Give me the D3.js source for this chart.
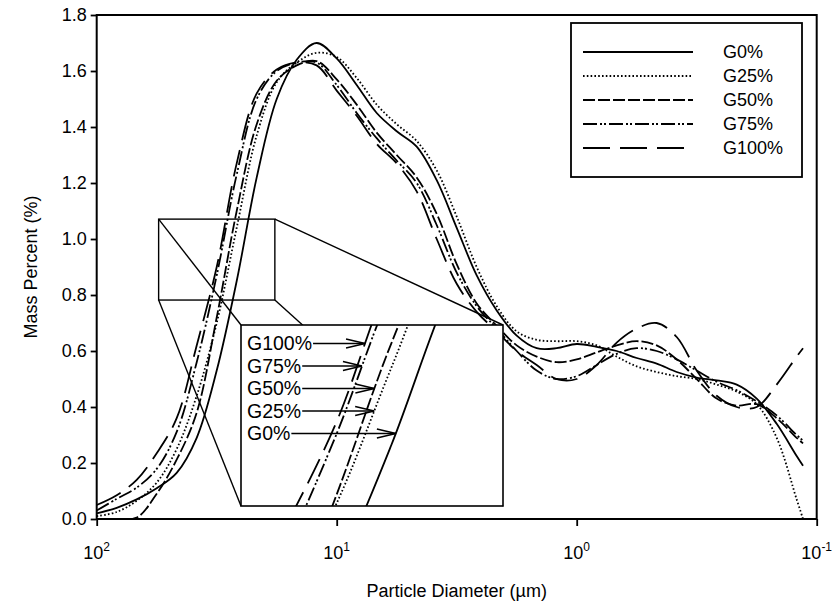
<!DOCTYPE html>
<html>
<head>
<meta charset="utf-8">
<script src="https://cdn.jsdelivr.net/npm/d3@7"></script>
<style>
  body { margin: 0; background: #fff; }
  text { font-family: "Liberation Sans", Arial, sans-serif; fill: #000; }
</style>
</head>
<body>
<svg id="chart" width="834" height="608"></svg>
<script>
// Particle diameters (µm), coarse to fine
const diameters = [100, 82.54, 68.13, 56.23, 46.42, 38.31, 31.62, 26.10, 21.54, 17.78,
  14.68, 12.12, 10.00, 8.254, 6.813, 5.623, 4.642, 3.831, 3.162, 2.610,
  2.154, 1.778, 1.468, 1.212, 1.000, 0.8254, 0.6813, 0.5623, 0.4642, 0.3831,
  0.3162, 0.2610, 0.2154, 0.1778, 0.1468, 0.1212, 0.114];

// Mass percent (%) for each mix
const g0 = [0.02, 0.04, 0.07, 0.11, 0.165, 0.29, 0.53, 0.85, 1.22, 1.50,
  1.64, 1.70, 1.645, 1.55, 1.45, 1.385, 1.33, 1.21, 1.04, 0.87,
  0.745, 0.655, 0.61, 0.61, 0.625, 0.615, 0.60, 0.575, 0.555, 0.525,
  0.505, 0.495, 0.48, 0.43, 0.34, 0.225, 0.19];
const g25 = [0.01, 0.025, 0.065, 0.13, 0.25, 0.44, 0.70, 1.04, 1.37, 1.56,
  1.63, 1.665, 1.65, 1.575, 1.48, 1.41, 1.35, 1.245, 1.08, 0.90,
  0.76, 0.67, 0.64, 0.635, 0.635, 0.62, 0.58, 0.545, 0.525, 0.51,
  0.50, 0.48, 0.455, 0.41, 0.29, 0.07, 0.0];
const g50 = [0.0, 0.0, 0.005, 0.09, 0.212, 0.38, 0.72, 1.10, 1.41, 1.565,
  1.62, 1.635, 1.57, 1.48, 1.38, 1.30, 1.22, 1.09, 0.91, 0.77,
  0.69, 0.62, 0.58, 0.56, 0.57, 0.595, 0.62, 0.635, 0.62, 0.57,
  0.50, 0.43, 0.405, 0.41, 0.36, 0.29, 0.27];
const g75 = [0.03, 0.072, 0.112, 0.179, 0.311, 0.56, 0.87, 1.23, 1.50, 1.60,
  1.63, 1.63, 1.55, 1.45, 1.36, 1.28, 1.20, 1.05, 0.88, 0.76,
  0.68, 0.60, 0.53, 0.50, 0.51, 0.55, 0.59, 0.61, 0.60, 0.57,
  0.53, 0.49, 0.46, 0.42, 0.37, 0.30, 0.28];
const g100 = [0.05, 0.085, 0.14, 0.235, 0.36, 0.62, 0.90, 1.27, 1.52, 1.605,
  1.63, 1.62, 1.53, 1.44, 1.34, 1.27, 1.17, 1.00, 0.84, 0.74,
  0.67, 0.60, 0.55, 0.50, 0.50, 0.55, 0.63, 0.68, 0.70, 0.65,
  0.53, 0.44, 0.40, 0.40, 0.48, 0.58, 0.61];

const seriesNames = ["G0%", "G25%", "G50%", "G75%", "G100%"];
const seriesValues = [g0, g25, g50, g75, g100];
const seriesDash = [null, "1.6,2.2", "12,3", "14,3,2,2,2,3", "27,10"];

const yTicks = [0, 0.2, 0.4, 0.6, 0.8, 1.0, 1.2, 1.4, 1.6, 1.8];
const xTicks = [100, 10, 1, 0.1];

// Region that is magnified in the inset (diameter range and mass-percent range)
const zoomBox = { dCoarse: 55.2, dFine: 18.1, vLow: 0.782, vHigh: 1.071 };
// Axis ranges used inside the inset
const insetDiameters = [43.7, 17.8];
const insetPercent = [0.70, 1.145];
// Inset labels, top to bottom
const insetOrder = ["G100%", "G75%", "G50%", "G25%", "G0%"];

// ---------------------------------------------------------------
const L = 96.7, R = 816.7, T = 15, B = 519;
const svg = d3.select("#chart");
const x = d3.scaleLog().domain([100, 0.1]).range([L, R]);
const y = d3.scaleLinear().domain([0, 1.8]).range([B, T]);

const series = seriesNames.map((name, i) => ({
  name,
  dash: seriesDash[i],
  points: diameters.map((d, j) => [d, seriesValues[i][j]])
}));

const defs = svg.append("defs");
defs.append("clipPath").attr("id", "plotClip")
  .append("rect").attr("x", L).attr("y", T).attr("width", R - L).attr("height", B - T);

const strokeW = 1.8;
const mainLine = d3.line()
  .x(p => x(p[0])).y(p => y(p[1]))
  .curve(d3.curveCatmullRom.alpha(0.5));

const plot = svg.append("g").attr("clip-path", "url(#plotClip)");
plot.selectAll("path.series").data(series).join("path")
  .attr("class", "series")
  .attr("d", s => mainLine(s.points))
  .attr("fill", "none")
  .attr("stroke", "#000")
  .attr("stroke-width", strokeW)
  .attr("stroke-dasharray", s => s.dash);

// Zoom box and connectors
const bx0 = x(zoomBox.dCoarse), bx1 = x(zoomBox.dFine);
const by0 = y(zoomBox.vHigh), by1 = y(zoomBox.vLow);
const inset = { x0: 241, y0: 325, x1: 503, y1: 506 };

const conn = svg.append("g").attr("stroke", "#000").attr("stroke-width", 1.4).attr("fill", "none");
conn.append("rect").attr("x", bx0).attr("y", by0).attr("width", bx1 - bx0).attr("height", by1 - by0);
[[bx0, by0, inset.x0, inset.y0], [bx0, by1, inset.x0, inset.y1],
 [bx1, by0, inset.x1, inset.y0], [bx1, by1, inset.x1, inset.y1]].forEach(c => {
  conn.append("line").attr("x1", c[0]).attr("y1", c[1]).attr("x2", c[2]).attr("y2", c[3]);
});

// Inset
const ix = d3.scaleLog().domain(insetDiameters).range([inset.x0, inset.x1]);
const iy = d3.scaleLinear().domain(insetPercent).range([inset.y1, inset.y0]);
defs.append("clipPath").attr("id", "insetClip")
  .append("rect").attr("x", inset.x0).attr("y", inset.y0)
  .attr("width", inset.x1 - inset.x0).attr("height", inset.y1 - inset.y0);

svg.append("rect")
  .attr("x", inset.x0).attr("y", inset.y0)
  .attr("width", inset.x1 - inset.x0).attr("height", inset.y1 - inset.y0)
  .attr("fill", "#fff");

const insetLine = d3.line()
  .x(p => ix(p[0])).y(p => iy(p[1]))
  .curve(d3.curveCatmullRom.alpha(0.5));

const insetG = svg.append("g").attr("clip-path", "url(#insetClip)");
const insetPaths = {};
series.forEach(s => {
  insetPaths[s.name] = insetG.append("path")
    .attr("d", insetLine(s.points))
    .attr("fill", "none")
    .attr("stroke", "#000")
    .attr("stroke-width", strokeW)
    .attr("stroke-dasharray", s.dash);
});

// Labels with arrows pointing at each curve
const rowY0 = 343.5, rowStep = 22.5, labelX = 247;
const ann = svg.append("g");
insetOrder.forEach((name, i) => {
  const ry = rowY0 + i * rowStep;
  const t = ann.append("text").attr("x", labelX).attr("y", ry).attr("dy", "0.35em")
    .attr("font-size", 19.5).text(name);
  const textEnd = labelX + t.node().getComputedTextLength();
  // find where the curve crosses this row inside the inset
  const p = insetPaths[name].node();
  const total = p.getTotalLength();
  let best = null, bestErr = Infinity;
  for (let l = 0; l <= total; l += 0.5) {
    const pt = p.getPointAtLength(l);
    if (pt.x < inset.x0 || pt.x > inset.x1 || pt.y < inset.y0 || pt.y > inset.y1) continue;
    const err = Math.abs(pt.y - ry);
    if (err < bestErr) { bestErr = err; best = pt; }
  }
  if (!best) return;
  ann.append("line").attr("x1", textEnd + 1).attr("y1", ry).attr("x2", best.x).attr("y2", ry)
    .attr("stroke", "#000").attr("stroke-width", 1.5);
  ann.append("polyline")
    .attr("points", `${best.x - 19},${ry - 4.5} ${best.x},${ry} ${best.x - 19},${ry + 4.5}`)
    .attr("fill", "none").attr("stroke", "#000").attr("stroke-width", 1.5);
});

svg.append("rect")
  .attr("x", inset.x0).attr("y", inset.y0)
  .attr("width", inset.x1 - inset.x0).attr("height", inset.y1 - inset.y0)
  .attr("fill", "none").attr("stroke", "#000").attr("stroke-width", 1.6);

// Axes
const yAxis = svg.append("g").attr("transform", `translate(${L},0)`)
  .call(d3.axisLeft(y).tickValues(yTicks).tickSize(6).tickSizeOuter(0).tickPadding(4)
    .tickFormat(d3.format(".1f")));
yAxis.select(".domain").remove();
yAxis.selectAll("line").attr("stroke-width", 1.8);
yAxis.selectAll("text").attr("font-size", 18).attr("font-family", "Liberation Sans, Arial, sans-serif");

const xAxis = svg.append("g").attr("transform", `translate(0,${B})`)
  .call(d3.axisBottom(x).tickValues(xTicks).tickSize(7).tickSizeOuter(0).tickFormat(""));
xAxis.select(".domain").remove();
xAxis.selectAll("line").attr("stroke-width", 1.8);

const xLab = svg.append("g");
xTicks.forEach(d => {
  const e = Math.round(Math.log10(d));
  const t = xLab.append("text").attr("x", x(d)).attr("y", 559).attr("text-anchor", "middle")
    .attr("font-size", 18);
  t.append("tspan").text("10");
  t.append("tspan").attr("font-size", 12).attr("dy", -8).text(String(e));
});

// Frame
svg.append("rect").attr("x", L).attr("y", T).attr("width", R - L).attr("height", B - T)
  .attr("fill", "none").attr("stroke", "#000").attr("stroke-width", 2);

// Axis titles
svg.append("text").attr("transform", "translate(31,267) rotate(-90)")
  .attr("text-anchor", "middle").attr("dy", "0.35em").attr("font-size", 18)
  .text("Mass Percent (%)");
svg.append("text").attr("x", (L + R) / 2).attr("y", 597)
  .attr("text-anchor", "middle").attr("font-size", 18)
  .text("Particle Diameter (\u00b5m)");

// Legend
const lg = svg.append("g");
lg.append("rect").attr("x", 571).attr("y", 23).attr("width", 231).attr("height", 154)
  .attr("fill", "#fff").attr("stroke", "#000").attr("stroke-width", 1.8);
series.forEach((s, i) => {
  const ly = 52 + i * 24;
  lg.append("line").attr("x1", 583).attr("x2", 693).attr("y1", ly).attr("y2", ly)
    .attr("stroke", "#000").attr("stroke-width", strokeW).attr("stroke-dasharray", s.dash);
  lg.append("text").attr("x", 723).attr("y", ly).attr("dy", "0.35em").attr("font-size", 18)
    .text(s.name);
});
</script>
</body>
</html>
